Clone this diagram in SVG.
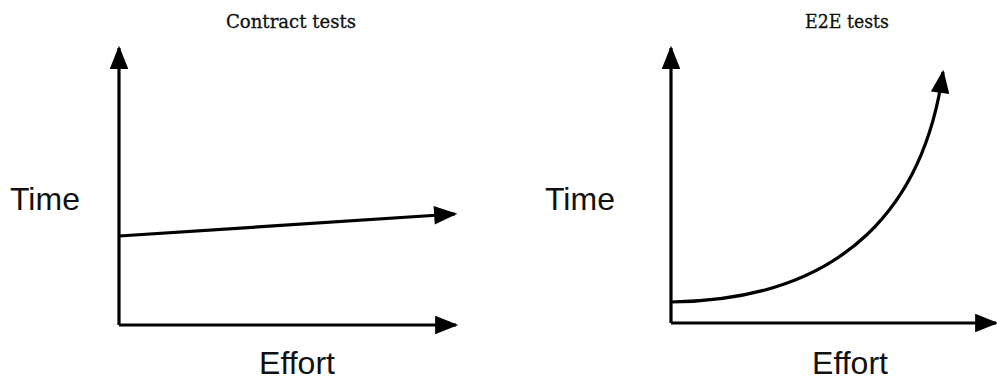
<svg xmlns="http://www.w3.org/2000/svg" width="997" height="380" viewBox="0 0 997 380">
<defs>
<marker id="ah" viewBox="0 0 10 8" refX="9" refY="4" markerWidth="7.6" markerHeight="5.8" orient="auto" markerUnits="strokeWidth">
<path d="M0,0 L10,4 L0,8 Z" fill="#000"/>
</marker>
<style>
.ax{fill:none;stroke:#000;stroke-width:3.2;stroke-linejoin:round;}
.lbl{font-family:"Liberation Sans",Arial,sans-serif;font-size:32px;fill:#111;}
.ttl{font-family:"DejaVu Serif","Liberation Serif",serif;font-size:18px;font-weight:normal;fill:#111;stroke:#111;stroke-width:0.3;}
</style>
</defs>
<rect width="997" height="380" fill="#fff"/>
<g id="connectors">
<path class="ax" d="M119,325 L119,48" marker-end="url(#ah)"/>
<path class="ax" d="M119,325 L456,325" marker-end="url(#ah)"/>
<path class="ax" d="M119,236 L455,214" marker-end="url(#ah)"/>
<path class="ax" d="M671,323 L671,48" marker-end="url(#ah)"/>
<path class="ax" d="M671,323 L996,323" marker-end="url(#ah)"/>
<path class="ax" d="M671,302 C850,300 925,200 943,72" marker-end="url(#ah)"/>
</g>
<g id="contract-title"><text class="ttl" x="291" y="28" text-anchor="middle" textLength="130" lengthAdjust="spacingAndGlyphs">Contract tests</text></g>
<g id="e2e-title"><text class="ttl" x="847" y="28" text-anchor="middle" textLength="84" lengthAdjust="spacingAndGlyphs">E2E tests</text></g>
<g id="time-left"><text class="lbl" x="10" y="210" font-size="31">Time</text></g>
<g id="time-right"><text class="lbl" x="545" y="210" font-size="31">Time</text></g>
<g id="effort-left"><text class="lbl" x="297" y="374" text-anchor="middle">Effort</text></g>
<g id="effort-right"><text class="lbl" x="850" y="374" text-anchor="middle">Effort</text></g>
</svg>
